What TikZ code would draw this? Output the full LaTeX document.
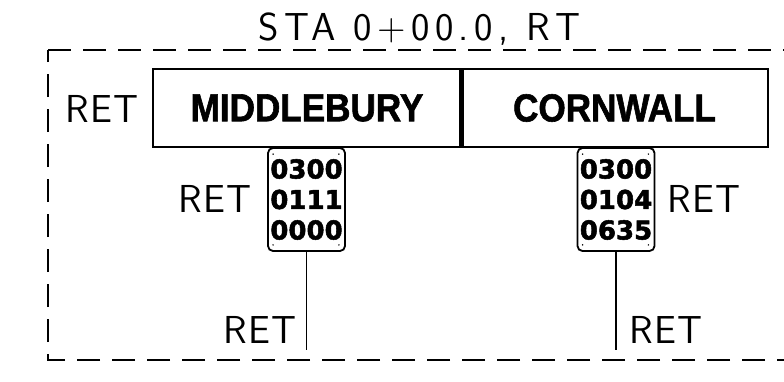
\documentclass[tikz,border=0pt]{standalone}
\usepackage{fontspec}
\newfontfamily\cadfont[LetterSpace=14]{Latin Modern Sans}
\newfontfamily\retfont[LetterSpace=3]{Latin Modern Sans}
\newfontfamily\signfont[FakeStretch=0.9,FakeBold=1.5]{Liberation Sans Bold}
\newfontfamily\numfont[FakeBold=2]{DejaVu Sans Bold}
\begin{document}
\begin{tikzpicture}[x=1pt,y=-1pt,
  cadtext/.style={font=\cadfont\fontsize{39}{39}\selectfont, inner sep=0pt, anchor=base west},
  rettext/.style={font=\retfont\fontsize{39}{39}\selectfont, inner sep=0pt, anchor=base west},
  frame/.style={line width=1.5pt, dash pattern=on 23pt off 12pt},
  panel/.style={draw, line width=1.6pt, minimum height=78pt, inner sep=0pt,
                font=\signfont\fontsize{39}{39}\selectfont},
  plate/.style={draw, line width=1.8pt, rounded corners=5pt, minimum width=77pt,
                minimum height=103pt, inner sep=0pt, align=center,
                font=\numfont\fontsize{26}{30.5}\selectfont},
  post/.style={line width=1.3pt},
  bolt/.style={fill, circle, inner sep=0pt, minimum size=1.6pt},
  divider/.style={line width=5pt}]
\useasboundingbox (0,0) rectangle (784,381);
\clip (0,0) rectangle (784,381);
% dashed frame (continues past the right edge)
\coordinate (ftr) at (800,50);
\coordinate (ftl) at (48,50);
\coordinate (fbl) at (48,360);
\coordinate (fbr) at (800,360);
\draw[frame] (ftl) -- (ftr);
\draw[frame] (fbr) -- (fbl) -- (ftl);
% title
\node[cadtext] (title) at (258,40) {STA 0+00.0, RT};
% main sign
\node[panel, minimum width=308pt] (mid) at (307,108) {MIDDLEBURY};
\node[panel, minimum width=307pt] (corn) at (614.5,108) {CORNWALL};
\draw[divider] (mid.north east) -- (mid.south east);
% plates
\node[plate] (lplate) at (306.5,199.5) {0300\\0111\\0000};
\node[plate] (rplate) at (616,199.5) {0300\\0104\\0635};
\foreach \p in {lplate,rplate}{
  \node[bolt] at ([shift={(6,7)}]\p.north west) {};
  \node[bolt] at ([shift={(-7,7)}]\p.north east) {};
  \node[bolt] at ([shift={(6,-7)}]\p.south west) {};
  \node[bolt] at ([shift={(-7,-7)}]\p.south east) {};
}
% posts
\coordinate (lbase) at (306.5,350);
\coordinate (rbase) at (616,350);
\draw[post] (lplate.south) -- (lbase);
\draw[post] (rplate.south) -- (rbase);
% RET labels
\node[rettext] (ret1) at (65,122) {RET};
\node[rettext] (ret2) at (178,212) {RET};
\node[rettext] (ret3) at (223,343) {RET};
\node[rettext] (ret4) at (667,212) {RET};
\node[rettext] (ret5) at (629,343) {RET};
\end{tikzpicture}
\end{document}
